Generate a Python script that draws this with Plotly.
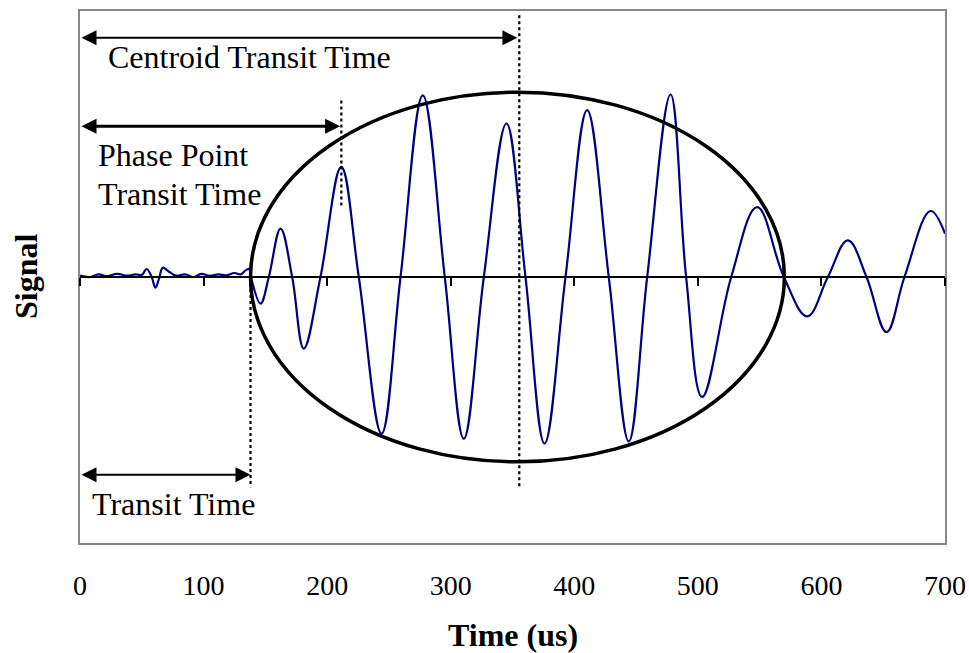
import plotly.graph_objects as go

# ---- data -------------------------------------------------------------
# Received signal: samples read at extrema and zero crossings
# (time in us, signal in arbitrary units)
baseline_t = [0, 8, 15, 22, 30, 38, 45, 50, 54, 58, 61, 64, 67, 72, 78, 85,
              92, 98, 105, 112, 118, 125, 130, 134, 137]
baseline_v = [0.005, 0.0, 0.01, 0.003, 0.012, 0.005, 0.01, 0.008, 0.03, 0.0,
              -0.04, -0.005, 0.035, 0.02, 0.005, 0.01, 0.0, 0.012, 0.005,
              0.01, 0.006, 0.015, 0.01, 0.025, 0.03]

wave_t = [138.3, 146.1, 152.8, 162.3, 171.7, 181.1, 194.6, 211.4, 225.6,
          244.0, 259.4, 277.4, 295.2, 310.6, 326.8, 345.1, 360.5, 375.9,
          392.9, 410.4, 427.9, 444.1, 459.0, 477.9, 490.5, 503.5, 527.0,
          548.0, 569.6, 588.5, 605.2, 621.4, 636.5, 652.7, 667.2, 688.3,
          700.0]
wave_v = [0.0, -0.10, 0.0, 0.182, 0.0, -0.269, 0.0, 0.414, 0.0,
          -0.589, 0.0, 0.683, 0.0, -0.608, 0.0, 0.577, 0.0, -0.626,
          0.0, 0.627, 0.0, -0.618, 0.0, 0.686, 0.0, -0.451, 0.0,
          0.263, 0.0, -0.148, 0.0, 0.138, 0.0, -0.207, 0.0, 0.248,
          0.163]

time_ticks = [0, 100, 200, 300, 400, 500, 600, 700]

# Marked times (us)
transit_time = 138.0
phase_point_time = 210.5
centroid_time = 354.0

# ---- styling ----------------------------------------------------------
SERIF = "Liberation Serif, Times New Roman, serif"
NAVY = "#000080"
FRAME = "#888888"

t_all = baseline_t + wave_t
v_all = baseline_v + wave_v

fig = go.Figure()
fig.add_trace(go.Scatter(
    x=t_all, y=v_all, mode="lines", xaxis="x2", yaxis="y",
    line=dict(color=NAVY, width=2.2, shape="spline", smoothing=1.1),
    hoverinfo="skip", showlegend=False,
))

# envelope ellipse around the wave packet, centred on the centroid
half_height = 0.695
fig.add_shape(type="circle", xref="x", yref="y",
              x0=transit_time, x1=2 * centroid_time - transit_time,
              y0=-half_height, y1=half_height,
              line=dict(color="black", width=3.5))

# dotted time markers
def vline(t, y0, y1):
    fig.add_shape(type="line", xref="x", yref="y", x0=t, x1=t, y0=y0, y1=y1,
                  line=dict(color="black", width=2.2, dash="dot"))

vline(transit_time, 0.0, -0.79)
vline(phase_point_time + 1, 0.664, 0.263)
vline(centroid_time + 1.5, 0.984, -0.79)

# double headed arrows from t = 0
def span_arrow(t_end, y, width, size):
    fig.add_annotation(x=t_end, y=y, ax=0, ay=y, xref="x", yref="y",
                       axref="x", ayref="y", text="", showarrow=True,
                       arrowhead=2, startarrowhead=2, arrowside="end+start",
                       arrowwidth=width, arrowsize=size, startarrowsize=size,
                       arrowcolor="black", standoff=0, startstandoff=0)

span_arrow(centroid_time, 0.899, 2, 1.5)
span_arrow(phase_point_time, 0.567, 3, 1.0)
span_arrow(transit_time, -0.743, 2, 1.5)

def label(text, t, y):
    fig.add_annotation(x=t, y=y, xref="x", yref="y", text=text,
                       showarrow=False, xanchor="left", yanchor="middle",
                       font=dict(family=SERIF, size=32, color="black"))

label("Centroid Transit Time", 21.0, 0.828)
label("Phase Point", 12.9, 0.457)
label("Transit Time", 12.9, 0.313)
label("Transit Time", 8.1, -0.852)

# axis titles
fig.add_annotation(x=0.5, y=0, xref="paper", yref="paper", yshift=-92,
                   text="<b>Time (us)</b>", showarrow=False,
                   xanchor="center", yanchor="middle",
                   font=dict(family=SERIF, size=32, color="black"))
fig.add_annotation(x=0, y=0.5, xref="paper", yref="paper", xshift=-54,
                   text="<b>Signal</b>", showarrow=False, textangle=-90,
                   xanchor="center", yanchor="middle",
                   font=dict(family=SERIF, size=32, color="black"))

fig.update_layout(
    width=969, height=653,
    margin=dict(l=80, r=24, t=11, b=110, autoexpand=False),
    paper_bgcolor="white", plot_bgcolor="white",
    xaxis=dict(range=[0, 700], tickvals=time_ticks, ticks="outside",
               ticklen=16, tickcolor="rgba(0,0,0,0)", showgrid=False,
               zeroline=False, showline=True, linecolor=FRAME, linewidth=2,
               mirror=True, automargin=False,
               tickfont=dict(family=SERIF, size=28, color="black")),
    xaxis2=dict(range=[0, 700], overlaying="x", anchor="free", position=0.5,
                side="bottom", tickvals=time_ticks, ticks="outside",
                ticklen=8, tickwidth=2, tickcolor="black", automargin=False,
                showticklabels=False, showgrid=False, zeroline=False,
                showline=True, linecolor="black", linewidth=2),
    yaxis=dict(range=[-1, 1], showticklabels=False, ticks="", showgrid=False,
               zeroline=False, showline=True, linecolor=FRAME, linewidth=2,
               mirror=True, automargin=False),
)

fig.write_html("out.html")
